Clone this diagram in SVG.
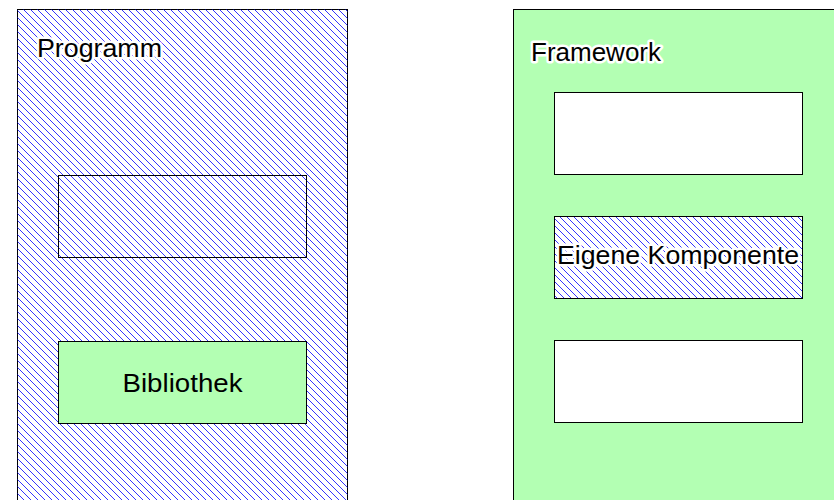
<svg xmlns="http://www.w3.org/2000/svg" width="834" height="500" viewBox="0 0 834 500">
  <defs>
    <pattern id="hatch" patternUnits="userSpaceOnUse" width="7" height="7">
      <path d="M-1,-1 L8,8 M-1,6 L1,8 M6,-1 L8,1" stroke="#0000ff" stroke-width="0.8" fill="none"/>
    </pattern>
  </defs>
  <style>
    .box { stroke: #000; stroke-width: 1; }
    .hatched { fill: url(#hatch); }
    .green { fill: #b3ffb3; }
    .white { fill: #ffffff; }
    .lbl { font-family: "Liberation Sans", Arial, sans-serif; font-size: 26.5px; fill: #000; }
    .halo { stroke: #fff; stroke-width: 5; stroke-linejoin: round; paint-order: stroke; }
  </style>
  <rect x="0" y="0" width="834" height="500" fill="#fff"/>
  <g id="programm">
    <rect class="box" x="17.5" y="9.5" width="330" height="500" fill="#fff"/>
    <rect class="hatched" x="17.5" y="9.5" width="330" height="500"/>
    <text class="lbl halo" x="37" y="57" textLength="125" lengthAdjust="spacingAndGlyphs">Programm</text>
  </g>
  <g id="prog-slot">
    <rect class="box" x="58.5" y="175.5" width="248" height="82" fill="none"/>
  </g>
  <g id="bibliothek">
    <rect class="box green" x="58.5" y="341.5" width="248" height="82"/>
    <text class="lbl" x="182.5" y="392" text-anchor="middle" textLength="120" lengthAdjust="spacingAndGlyphs">Bibliothek</text>
  </g>
  <g id="framework">
    <rect class="box green" x="513.5" y="9.5" width="340" height="500"/>
    <text class="lbl halo" x="531" y="61" textLength="130" lengthAdjust="spacingAndGlyphs">Framework</text>
  </g>
  <g id="fw-slot-top">
    <rect class="box white" x="554.5" y="92.5" width="248" height="82"/>
  </g>
  <g id="eigene-komponente">
    <rect class="box white" x="554.5" y="216.5" width="248" height="82"/>
    <rect class="hatched" x="554.5" y="216.5" width="248" height="82"/>
    <rect class="box" x="554.5" y="216.5" width="248" height="82" fill="none"/>
    <text class="lbl halo" x="557" y="264" textLength="242" lengthAdjust="spacingAndGlyphs">Eigene Komponente</text>
  </g>
  <g id="fw-slot-bottom">
    <rect class="box white" x="554.5" y="340.5" width="248" height="82"/>
  </g>
  <g id="connectors"></g>
</svg>
